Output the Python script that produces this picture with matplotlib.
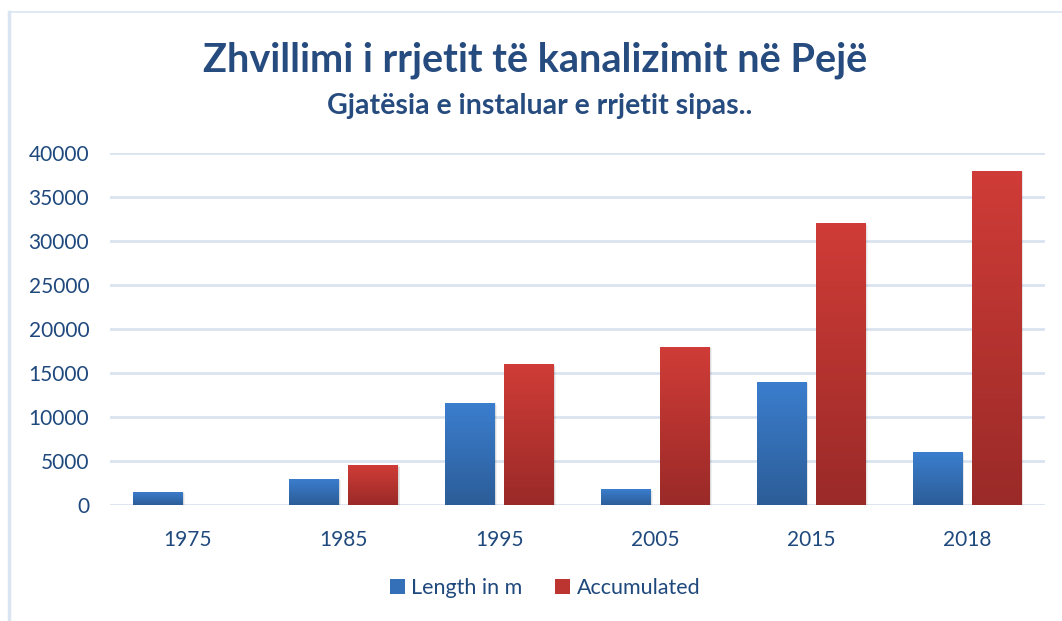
import numpy as np
import matplotlib
matplotlib.use('Agg')
import matplotlib.pyplot as plt
from matplotlib.colors import LinearSegmentedColormap
from matplotlib.lines import Line2D
from matplotlib.patches import Patch

# data
years = ['1975', '1985', '1995', '2005', '2015', '2018']
length_m = [1500, 3000, 11600, 1800, 14000, 6000]
accumulated = [0, 4500, 16000, 18000, 32000, 38000]

text_col = '#1F497D'
title_col = '#264B7E'
grid_col = '#D9E3F0'

plt.rcParams['font.family'] = ['Lato', 'DejaVu Sans']

W, H = 1062, 621
fig = plt.figure(figsize=(W / 100, H / 100), dpi=100)
ax = fig.add_axes([110 / W, 116 / H, 935 / W, 352 / H])

blue_cmap = LinearSegmentedColormap.from_list('b', ['#2C5D98', '#3B7ECE'])
red_cmap = LinearSegmentedColormap.from_list('r', ['#9A2A28', '#D03C37'])
grad = np.linspace(0, 1, 256).reshape(-1, 1)

x = np.arange(len(years))
w = 0.32
off = 0.19


def gradient_bars(xpos, vals, cmap):
    bars = ax.bar(xpos, vals, width=w, color='none', zorder=3)
    for b in bars:
        h = b.get_height()
        if h <= 0:
            continue
        x0 = b.get_x()
        # soft shadow
        for k in range(1, 4):
            ax.bar(x0 + w / 2 + 0.004 * k, h, width=w, bottom=-60 * k,
                   color='#000000', alpha=0.05, zorder=2, linewidth=0)
        im = ax.imshow(grad, cmap=cmap, aspect='auto', origin='lower',
                       extent=[x0, x0 + w, 0, h], zorder=3)
        im.set_clip_path(b)
    return bars


gradient_bars(x - off, length_m, blue_cmap)
gradient_bars(x + off, accumulated, red_cmap)

ax.set_xlim(-0.5, len(years) - 0.5)
ax.set_ylim(0, 40000)
ax.set_yticks(range(0, 40001, 5000))
ax.set_xticks(x)
ax.set_xticklabels(years)
ax.yaxis.grid(True, color=grid_col, linewidth=2, zorder=0)
ax.set_axisbelow(True)
for s in ax.spines.values():
    s.set_visible(False)
ax.tick_params(length=0, labelsize=15, colors=text_col)
ax.tick_params(axis='y', pad=15)
ax.tick_params(axis='x', pad=18)

fig.text(535 / W, 1 - 60 / H, 'Zhvillimi i rrjetit të kanalizimit në Pejë',
         ha='center', va='center', fontsize=28.5, fontweight='bold', color=title_col)
fig.text(540 / W, 1 - 106 / H, 'Gjatësia e instaluar e rrjetit sipas..',
         ha='center', va='center', fontsize=20.5, fontweight='bold', color=title_col)

handles = [Patch(facecolor='#3470B8'), Patch(facecolor='#BD3531')]
fig.legend(handles, ['Length in m', 'Accumulated'], loc='center',
           bbox_to_anchor=(545 / W, 1 - 588 / H), ncol=2, frameon=False,
           fontsize=15.5, handlelength=0.7, handleheight=0.7, handletextpad=0.3,
           columnspacing=1.5, labelcolor=text_col)

# chart border
fig.add_artist(Line2D([9 / W, 9 / W], [0, 1 - 12 / H], color='#DAE5F2', lw=2.5))
fig.add_artist(Line2D([9 / W, 1], [1 - 12 / H, 1 - 12 / H], color='#DAE5F2', lw=1.2))

fig.savefig('out.png', dpi=100)
